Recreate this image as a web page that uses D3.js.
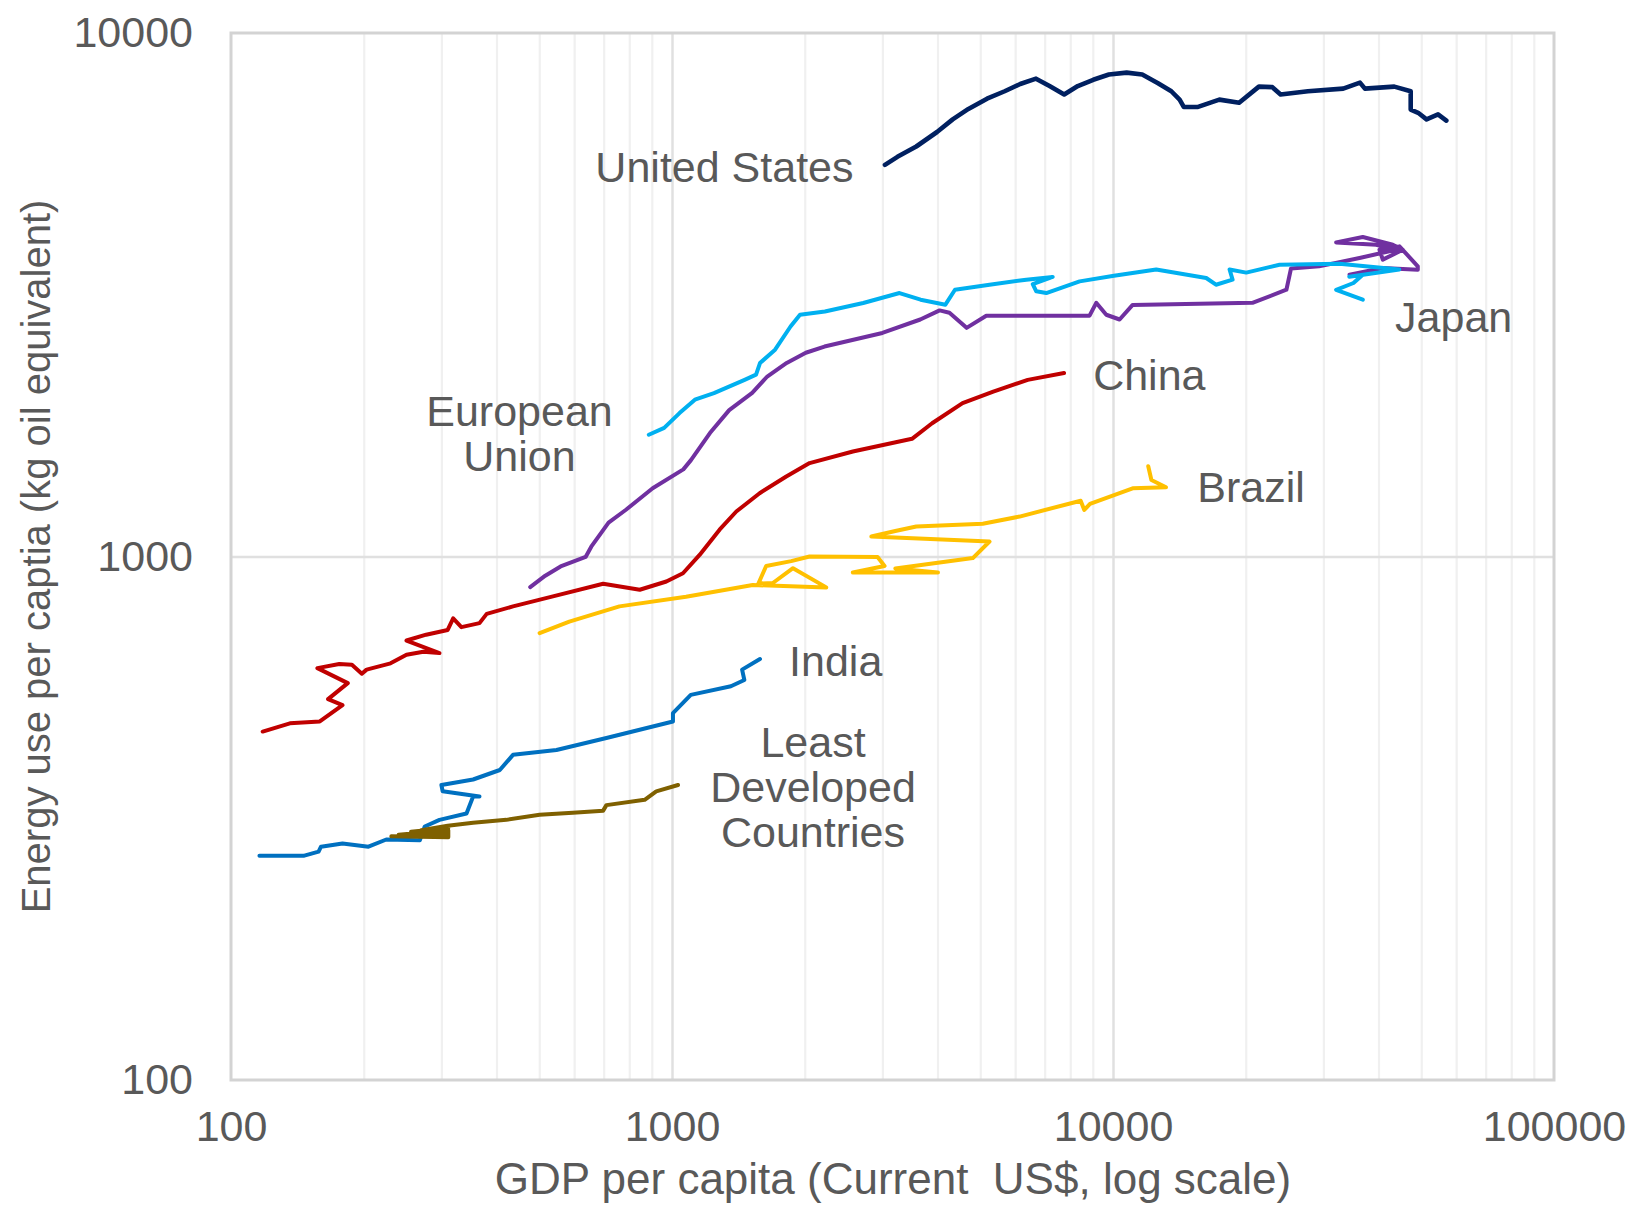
<!DOCTYPE html>
<html>
<head>
<meta charset="utf-8">
<script src="https://cdn.jsdelivr.net/npm/d3@7"></script>
<style>
  html, body { margin: 0; padding: 0; background: #ffffff; }
  svg { display: block; font-family: "Liberation Sans", Arial, sans-serif; }
</style>
</head>
<body>
<svg id="chart" width="1633" height="1205"></svg>
<script>
// ---------------- DATA (GDP per capita US$, energy use kg oil eq. per capita) ----------------
const unitedStates = [[3040,5600],[3245,5800],[3580,6070],[3990,6470],[4330,6840],[4700,7160],[5180,7490],[5680,7740],[6160,7990],[6690,8180],[7180,7920],[7750,7630],[8320,7920],[9020,8140],[9790,8330],[10740,8400],[11650,8330],[12650,8020],[13560,7740],[14160,7460],[14480,7220],[15530,7220],[17420,7460],[19320,7360],[21420,7900],[22980,7880],[23990,7630],[27660,7740],[33270,7830],[36310,8040],[37260,7830],[43440,7900],[47320,7740],[47320,7140],[49200,7040],[51400,6840],[54580,6990],[57000,6800]];

const japan = [[477,874],[516,919],[559,957],[637,998],[656,1044],[718,1161],[785,1227],[904,1350],[1061,1467],[1104,1528],[1219,1721],[1348,1904],[1520,2053],[1644,2207],[1820,2343],[2011,2450],[2217,2518],[2999,2673],[3656,2836],[4044,2952],[4257,2921],[4656,2734],[5160,2884],[8849,2884],[9162,3052],[9654,2896],[10350,2836],[11080,3024],[20710,3052],[24730,3233],[25330,3550],[29330,3583],[36230,3718],[43850,3855],[39510,3940],[32060,3981],[36850,4076],[43090,3940],[45420,3855],[40900,3690],[40200,3855],[44630,3912],[49110,3583],[49110,3531],[40900,3556],[34380,3454]];

const europeanUnion = [[886,1708],[960,1761],[1040,1879],[1127,1993],[1245,2052],[1461,2175],[1551,2225],[1583,2342],[1713,2483],[1857,2750],[1951,2897],[2222,2938],[2714,3050],[3280,3186],[3662,3094],[4168,3027],[4382,3232],[5248,3305],[6358,3379],[7300,3420],[6577,3315],[6699,3210],[7058,3186],[8401,3354],[10050,3438],[12530,3534],[16270,3404],[17120,3305],[18670,3379],[18380,3534],[20050,3486],[23850,3609],[32620,3624],[44570,3534],[34340,3422],[36850,3454],[35100,3330],[32060,3232],[36850,3094]];

const china = [[118,463],[136,480],[159,484],[179,520],[166,534],[184,573],[157,612],[176,623],[188,621],[198,597],[203,608],[230,625],[250,649],[273,658],[297,654],[250,691],[277,709],[310,724],[319,762],[333,733],[366,746],[380,777],[436,803],[537,839],[698,887],[845,864],[971,896],[1059,929],[1155,1007],[1282,1125],[1399,1219],[1580,1321],[1816,1422],[2051,1508],[2571,1587],[3501,1678],[3889,1797],[4559,1963],[5352,2066],[6406,2175],[7745,2242]];

const brazil = [[501,714],[585,751],[760,803],[1076,838],[1524,882],[2238,873],[1881,950],[1693,890],[1570,888],[1635,959],[1863,980],[2051,1000],[2925,998],[3034,959],[2571,932],[4010,932],[3209,949],[4811,993],[5248,1068],[2831,1092],[3209,1119],[3580,1141],[5066,1155],[6141,1192],[8447,1278],[8608,1227],[8868,1260],[11080,1350],[13190,1356],[12220,1400],[12020,1487]];

const india = [[116,268],[146,268],[158,273],[160,279],[179,283],[205,279],[225,288],[268,287],[275,305],[297,314],[342,323],[354,348],[366,348],[302,356],[300,366],[354,375],[407,391],[436,418],[547,427],[710,450],[1005,484],[1005,502],[1103,544],[1360,565],[1459,581],[1442,608],[1583,637]];

const leastDeveloped = [[231,292],[311,291],[311,300],[240,294],[311,296],[256,298],[311,303],[270,300],[310,306],[354,310],[421,314],[501,321],[596,324],[698,327],[710,335],[867,343],[921,356],[1032,366]];

const seriesNames  = ["United States","Japan","European Union","China","Brazil","India","Least Developed Countries"];
const seriesData   = [unitedStates, japan, europeanUnion, china, brazil, india, leastDeveloped];
const seriesColors = ["#002060","#7030a0","#00b0f0","#c00000","#ffc000","#0070c0","#7f6000"];

// Annotation labels: text lines and anchor point (GDP, energy)
const labelLines   = [["United States"],["Japan"],["China"],["European","Union"],["Brazil"],["India"],["Least","Developed","Countries"]];
const labelAnchorX = [2580, 43610, 9016, 451, 15530, 1843, 2088];
const labelAnchorY = [5560, 2862, 2225, 1895, 1356, 631, 443];
const labelAlign   = ["end","start","start","middle","start","start","middle"];

const xTickValues = [100, 1000, 10000, 100000];
const yTickValues = [100, 1000, 10000];
const xTitle = "GDP per capita (Current\u00a0 US$, log scale)";
const yTitle = "Energy use per captia (kg oil equivalent)";

// ---------------- LAYOUT ----------------
const plotL = 231, plotR = 1554, plotT = 33, plotB = 1080;
const svg = d3.select("#chart");
const x = d3.scaleLog().domain([100, 100000]).range([plotL, plotR]);
const y = d3.scaleLog().domain([100, 10000]).range([plotB, plotT]);
const textColor = "#595959";

// minor vertical gridlines
const minorX = x.ticks().filter(v => !xTickValues.includes(v));
const gMinor = svg.append("g").attr("transform", `translate(0,${plotB})`)
  .call(d3.axisBottom(x).tickValues(minorX).tickSize(-(plotB - plotT)).tickFormat(""));
gMinor.select(".domain").remove();
gMinor.selectAll("line").attr("stroke", "#f0f0f0").attr("stroke-width", 2.2);

// major gridlines
const gMajX = svg.append("g").attr("transform", `translate(0,${plotB})`)
  .call(d3.axisBottom(x).tickValues([1000, 10000]).tickSize(-(plotB - plotT)).tickFormat(""));
gMajX.select(".domain").remove();
gMajX.selectAll("line").attr("stroke", "#e0e0e0").attr("stroke-width", 2.5);

const gMajY = svg.append("g").attr("transform", `translate(${plotL},0)`)
  .call(d3.axisLeft(y).tickValues([1000]).tickSize(-(plotR - plotL)).tickFormat(""));
gMajY.select(".domain").remove();
gMajY.selectAll("line").attr("stroke", "#e0e0e0").attr("stroke-width", 2.5);

// plot frame
svg.append("rect")
  .attr("x", plotL).attr("y", plotT)
  .attr("width", plotR - plotL).attr("height", plotB - plotT)
  .attr("fill", "none").attr("stroke", "#d3d3d3").attr("stroke-width", 3);

// axes labels
const gx = svg.append("g").attr("transform", `translate(0,${plotB})`)
  .call(d3.axisBottom(x).tickValues(xTickValues).tickSize(0).tickPadding(30).tickFormat(d3.format("d")));
gx.select(".domain").remove();
gx.selectAll("text").attr("font-size", 43).attr("fill", textColor)
  .attr("font-family", "'Liberation Sans', Arial, sans-serif");

const gy = svg.append("g").attr("transform", `translate(${plotL},0)`)
  .call(d3.axisLeft(y).tickValues(yTickValues).tickSize(0).tickPadding(38).tickFormat(d3.format("d")));
gy.select(".domain").remove();
gy.selectAll("text").attr("font-size", 43).attr("fill", textColor)
  .attr("font-family", "'Liberation Sans', Arial, sans-serif");

// axis titles
svg.append("text")
  .attr("x", 893).attr("y", 1194)
  .attr("text-anchor", "middle").attr("font-size", 44).attr("fill", textColor)
  .text(xTitle);

svg.append("text")
  .attr("transform", `translate(50,${(plotT + plotB) / 2}) rotate(-90)`)
  .attr("text-anchor", "middle").attr("font-size", 40).attr("fill", textColor)
  .text(yTitle);

// series lines
const line = d3.line().x(d => x(d[0])).y(d => y(d[1])).curve(d3.curveLinear);
svg.append("g").selectAll("path")
  .data(seriesData)
  .join("path")
  .attr("d", d => line(d))
  .attr("fill", "none")
  .attr("stroke", (d, i) => seriesColors[i])
  .attr("stroke-width", (d, i) => i === 0 ? 4.6 : 4)
  .attr("stroke-linejoin", "round")
  .attr("stroke-linecap", "round");

// annotation labels
const lineHeight = 45;
labelLines.forEach((lines, i) => {
  const cx = x(labelAnchorX[i]), cy = y(labelAnchorY[i]);
  const t = svg.append("text")
    .attr("text-anchor", labelAlign[i])
    .attr("font-size", 43).attr("fill", textColor);
  lines.forEach((s, j) => {
    t.append("tspan").attr("x", cx).attr("y", cy + j * lineHeight).attr("dy", "0.35em").text(s);
  });
});
</script>
</body>
</html>
